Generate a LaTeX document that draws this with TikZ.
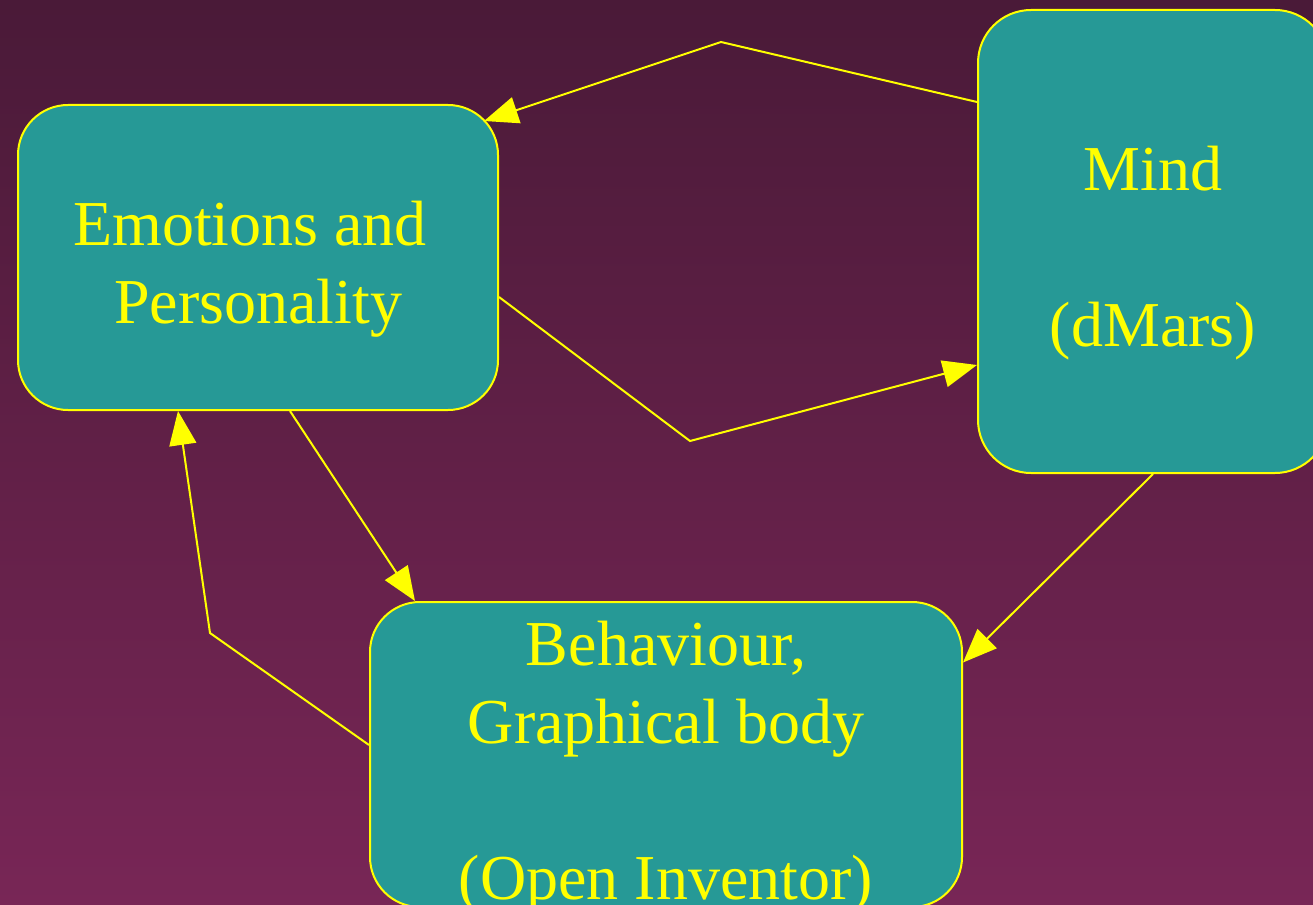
\documentclass[tikz,border=0pt]{standalone}
\usepackage{fontspec}
\setmainfont{Liberation Serif}
\usetikzlibrary{arrows.meta}
\definecolor{bgtop}{HTML}{4A1A38}
\definecolor{bgbot}{HTML}{782656}
\definecolor{boxfill}{HTML}{269996}
\definecolor{lineyel}{HTML}{FFFF00}
\newcommand\toppad{\rule{0pt}{68pt}}
\tikzset{
  box/.style={draw=lineyel, line width=2pt, fill=boxfill, rounded corners=50pt,
    inner sep=0pt, align=center, text=lineyel,
    font=\fontsize{64}{78}\selectfont},
  txt/.style={inner sep=0pt, align=center, text=lineyel,
    font=\fontsize{64}{78}\selectfont},
  arr/.style={draw=lineyel, line width=2pt,
    -{Triangle[length=34pt,width=27pt]}}
}
\begin{document}
\begin{tikzpicture}[x=1pt,y=-1pt]
\useasboundingbox (0,0) rectangle (1313,904);
\clip (0,0) rectangle (1313,904);
\shade[top color=bgtop, bottom color=bgbot] (0,0) rectangle (1313,904);
\node[box, minimum width=480pt, minimum height=305pt] (emo) at (258,257.5) {\toppad Emotions and\hspace*{0.25em}\\Personality};
\node[box, minimum width=350pt, minimum height=463pt, rounded corners=53pt] (mind) at (1153,241.5) {\toppad Mind\\[78pt](dMars)};
\node[box, minimum width=592pt, minimum height=305pt] (beh) at (666,754.5) {};
\node[txt] (behtext) at (666,767.5) {Behaviour,\\Graphical body\\[78pt](Open Inventor)};
\coordinate (b1) at (721,42);
\coordinate (b2) at (690,441);
\coordinate (b4) at (210,633);
\draw[arr] ([yshift=-93pt]mind.north west) -- (b1) -- ([xshift=-15pt,yshift=-17pt]emo.north east);
\draw[arr] ([yshift=-39.5pt]emo.east) -- (b2) -- ([yshift=-123.5pt]mind.west);
\draw[arr] ([xshift=32pt]emo.south) -- ([xshift=-251pt]beh.north);
\draw[arr] ([yshift=9.5pt]beh.west) -- (b4) -- ([xshift=-80pt]emo.south);
\draw[arr] (mind.south) -- ([yshift=92pt]beh.east);
\end{tikzpicture}
\end{document}
